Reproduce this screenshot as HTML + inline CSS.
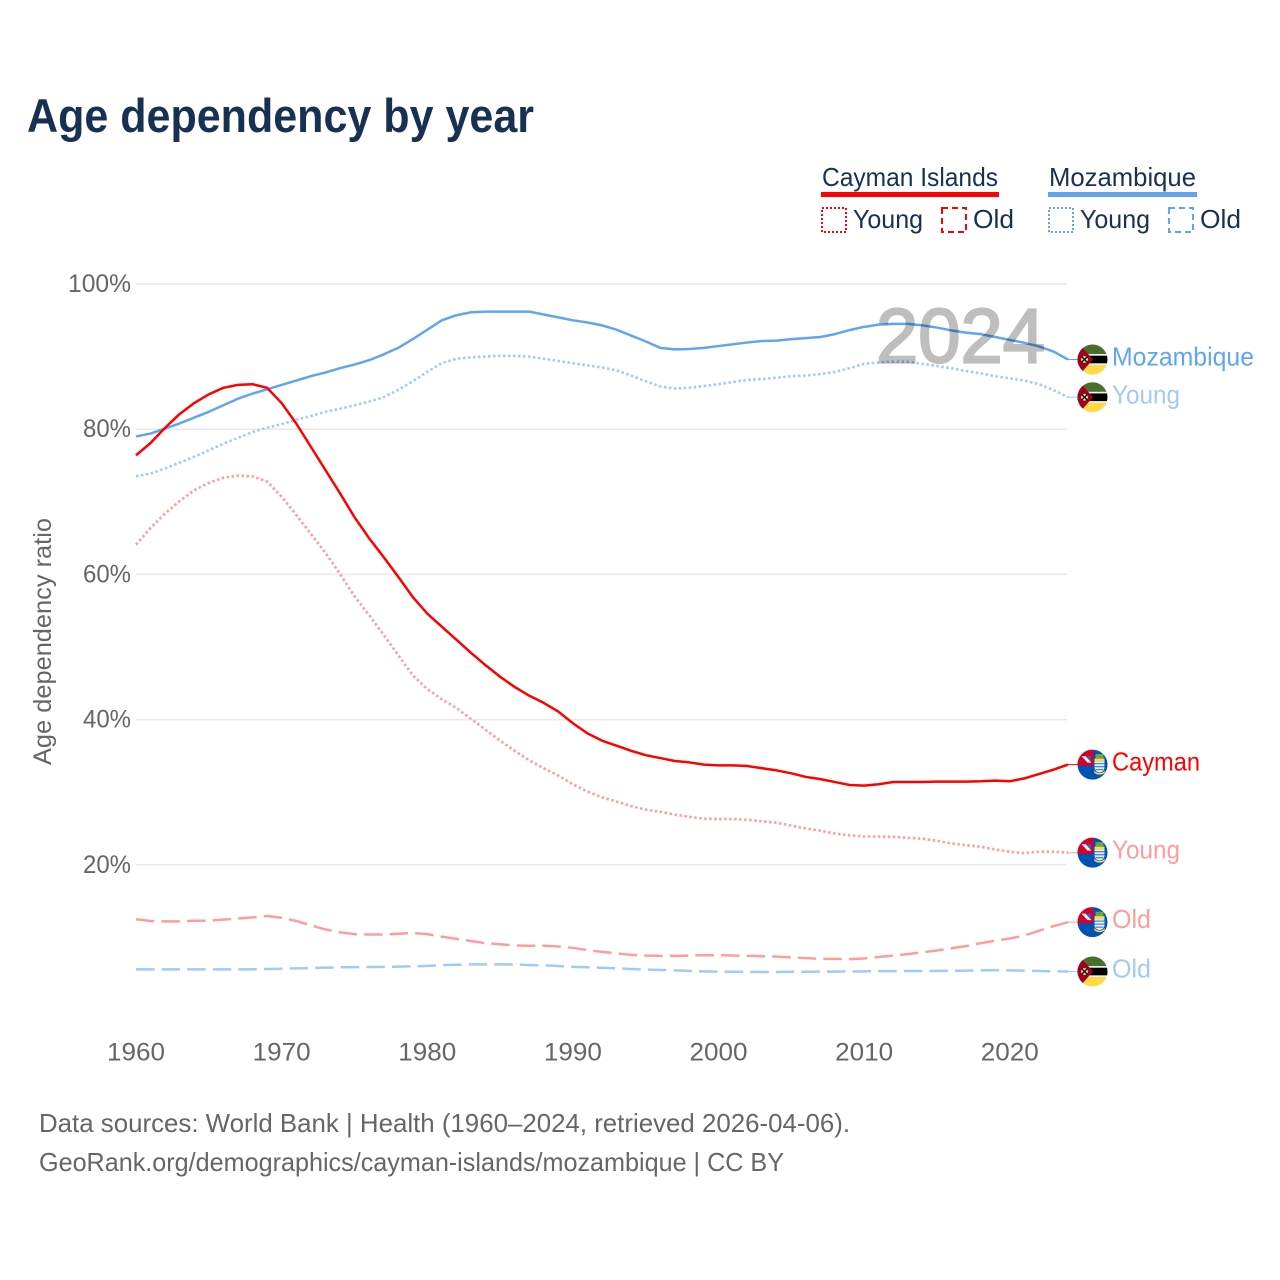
<!DOCTYPE html>
<html lang="en">
<head>
<meta charset="utf-8">
<title>Age dependency by year</title>
<style>
html,body{margin:0;padding:0;background:#fff;}
svg{display:block;font-family:"Liberation Sans",sans-serif;}
</style>
</head>
<body>
<svg id="chart" width="1280" height="1280" viewBox="0 0 1280 1280" xmlns="http://www.w3.org/2000/svg">
  <defs>
    <clipPath id="flag-clip"><circle cx="0" cy="0" r="15"></circle></clipPath>
    <symbol id="flag-mz" viewBox="-15 -15 30 30" overflow="visible">
      <g clip-path="url(#flag-clip)">
        <rect x="-15" y="-15" width="30" height="30" fill="#f0f0f0"></rect>
        <rect x="-15" y="-15" width="30" height="9.5" fill="#496e2d"></rect>
        <rect x="-15" y="-3.8" width="30" height="7.6" fill="#000"></rect>
        <rect x="-15" y="5.5" width="30" height="9.5" fill="#ffda44"></rect>
        <polygon points="-15,-15 -11,-13 0.5,0 -11,13 -15,15" fill="#a2001d"></polygon>
        <circle cx="-8" cy="0" r="3.4" fill="#f3e3a0"></circle>
        <path d="M-11-3L-5 3M-11 3L-5-3" stroke="#111" stroke-width="1.5"></path>
      </g>
    </symbol>
    <symbol id="flag-ky" viewBox="-15 -15 30 30" overflow="visible">
      <g clip-path="url(#flag-clip)">
        <rect x="-15" y="-15" width="30" height="30" fill="#0052b4"></rect>
        <rect x="-15" y="-15" width="16" height="16" fill="#d80027"></rect>
        <polygon points="-11,-8.5 -7,-8.5 -1,-2 -5,-2" fill="#f0f0f0"></polygon>
        <polygon points="-7,-8.5 -1.5,-8.5 -1.5,-2.5" fill="#3a5fb0"></polygon>
        <rect x="3" y="-10.5" width="8" height="4.5" fill="#6da544"></rect>
        <rect x="2" y="-6" width="10" height="3" fill="#ffda44"></rect>
        <path d="M2-3H12V3Q12 7 7 8Q2 7 2 3Z" fill="#f0f0f0"></path>
        <path d="M2-1H12M2 2H12M3 5H11" stroke="#338af3" stroke-width="1.3"></path>
        <path d="M1.5 6Q7 11 12.5 6L12 8.5Q7 11.5 2 8.5Z" fill="#ffda44"></path>
      </g>
    </symbol>
  </defs>

  <text x="27" y="132" font-size="47" font-weight="700" fill="#183153" textLength="507" lengthAdjust="spacingAndGlyphs">Age dependency by year</text>

  <g font-size="26" fill="#183153">
    <g>
      <text x="822" y="186" textLength="176" lengthAdjust="spacingAndGlyphs">Cayman Islands</text>
      <rect x="821" y="192" width="178" height="5" fill="#ff0000"></rect>
      <rect x="822" y="208" width="24" height="24" fill="none" stroke="#ff0000" stroke-width="2" stroke-dasharray="2 2"></rect>
      <text x="853" y="228" textLength="70" lengthAdjust="spacingAndGlyphs">Young</text>
      <rect x="942" y="208" width="24" height="24" fill="none" stroke="#ff0000" stroke-width="2" stroke-dasharray="6 4"></rect>
      <text x="973" y="228" textLength="41" lengthAdjust="spacingAndGlyphs">Old</text>
    </g>
    <g>
      <text x="1049" y="186" textLength="147" lengthAdjust="spacingAndGlyphs">Mozambique</text>
      <rect x="1048" y="192" width="149" height="5" fill="#60a5ee"></rect>
      <rect x="1049" y="208" width="24" height="24" fill="none" stroke="#60a5ee" stroke-width="2" stroke-dasharray="2 2"></rect>
      <text x="1080" y="228" textLength="70" lengthAdjust="spacingAndGlyphs">Young</text>
      <rect x="1169" y="208" width="24" height="24" fill="none" stroke="#60a5ee" stroke-width="2" stroke-dasharray="6 4"></rect>
      <text x="1200" y="228" textLength="41" lengthAdjust="spacingAndGlyphs">Old</text>
    </g>
  </g>

  <g id="grid"></g>
  <g id="y-labels" font-size="25" fill="#666666"></g>
  <g id="x-labels" font-size="25" fill="#666666"></g>
  <text transform="translate(51 641.5) rotate(-90)" text-anchor="middle" font-size="25" fill="#666666" textLength="247" lengthAdjust="spacingAndGlyphs">Age dependency ratio</text>

  <g id="series"></g>

  <text x="876" y="362.5" font-size="77" fill="#000" stroke="#000" stroke-width="2.2" opacity="0.25" textLength="169" lengthAdjust="spacingAndGlyphs">2024</text>

  <g id="end-labels" font-size="26"></g>

  <g font-size="26" fill="#666666">
    <text x="39" y="1132" textLength="811" lengthAdjust="spacingAndGlyphs">Data sources: World Bank | Health (1960–2024, retrieved 2026-04-06).</text>
    <text x="39" y="1171" textLength="745" lengthAdjust="spacingAndGlyphs">GeoRank.org/demographics/cayman-islands/mozambique | CC BY</text>
  </g>
</svg>

<script>
const years = [
  1960,1961,1962,1963,1964,1965,1966,1967,1968,1969,
  1970,1971,1972,1973,1974,1975,1976,1977,1978,1979,
  1980,1981,1982,1983,1984,1985,1986,1987,1988,1989,
  1990,1991,1992,1993,1994,1995,1996,1997,1998,1999,
  2000,2001,2002,2003,2004,2005,2006,2007,2008,2009,
  2010,2011,2012,2013,2014,2015,2016,2017,2018,2019,
  2020,2021,2022,2023,2024];
const caymanTotal = [
  76.4,78.1,80.2,82.1,83.6,84.8,85.7,86.1,86.2,85.7,
  83.6,80.8,77.6,74.4,71.2,67.9,65.0,62.4,59.7,56.9,
  54.6,52.8,51.0,49.2,47.5,45.9,44.5,43.3,42.3,41.1,
  39.5,38.1,37.1,36.4,35.7,35.1,34.7,34.3,34.1,33.8,
  33.7,33.7,33.6,33.3,33.0,32.6,32.1,31.8,31.4,31.0,
  30.9,31.1,31.4,31.4,31.4,31.45,31.45,31.45,31.5,31.6,
  31.5,31.9,32.5,33.1,33.8];
const caymanYoung = [
  64.1,66.4,68.4,70.1,71.6,72.6,73.3,73.6,73.5,72.8,
  70.7,68.2,65.6,63.0,60.1,57.0,54.4,51.7,48.9,46.1,
  44.2,42.8,41.6,40.1,38.6,37.1,35.7,34.4,33.3,32.3,
  31.1,30.1,29.3,28.7,28.1,27.6,27.3,26.9,26.6,26.35,
  26.3,26.3,26.2,26.0,25.8,25.4,25.0,24.7,24.3,24.05,
  23.9,23.9,23.85,23.7,23.6,23.3,22.95,22.7,22.5,22.1,
  21.8,21.6,21.8,21.8,21.67];
const caymanOld = [
  12.5,12.26,12.2,12.2,12.3,12.3,12.45,12.6,12.75,12.95,
  12.7,12.26,11.65,11.1,10.7,10.45,10.4,10.4,10.5,10.6,
  10.45,10.1,9.8,9.5,9.2,9.05,8.9,8.85,8.85,8.75,
  8.55,8.25,8.0,7.8,7.6,7.5,7.45,7.45,7.5,7.55,
  7.55,7.5,7.45,7.4,7.35,7.25,7.15,7.05,7.05,7.0,
  7.1,7.3,7.5,7.7,7.95,8.2,8.5,8.8,9.2,9.55,
  9.85,10.25,10.9,11.55,12.1];
const mozambiqueTotal = [
  79.0,79.4,80.1,80.8,81.6,82.4,83.3,84.2,84.9,85.5,
  86.1,86.7,87.3,87.8,88.4,88.9,89.5,90.3,91.2,92.4,
  93.7,95.0,95.7,96.1,96.2,96.2,96.2,96.2,95.8,95.4,
  95.0,94.7,94.3,93.7,92.9,92.1,91.2,91.0,91.05,91.2,
  91.45,91.7,91.95,92.15,92.2,92.4,92.55,92.7,93.1,93.65,
  94.1,94.4,94.5,94.5,94.3,94.0,93.6,93.3,93.1,92.7,
  92.3,91.9,91.4,90.7,89.6];
const mozambiqueYoung = [
  73.5,73.9,74.6,75.4,76.2,77.1,78.0,78.8,79.6,80.2,
  80.7,81.3,81.8,82.4,82.8,83.3,83.8,84.4,85.4,86.6,
  87.9,89.1,89.7,89.9,90.0,90.1,90.1,90.0,89.7,89.4,
  89.1,88.8,88.5,88.1,87.4,86.6,85.9,85.6,85.7,85.95,
  86.2,86.5,86.8,86.9,87.1,87.3,87.4,87.6,87.9,88.4,
  89.0,89.2,89.3,89.3,89.0,88.7,88.4,88.0,87.7,87.3,
  87.0,86.7,86.2,85.4,84.4];
const mozambiqueOld = [
  5.6,5.6,5.6,5.6,5.6,5.6,5.6,5.6,5.6,5.65,
  5.69,5.74,5.78,5.83,5.88,5.9,5.92,5.94,5.97,6.01,
  6.08,6.17,6.24,6.29,6.29,6.29,6.27,6.2,6.15,6.06,
  5.94,5.88,5.81,5.74,5.65,5.58,5.51,5.46,5.39,5.32,
  5.28,5.26,5.26,5.23,5.23,5.26,5.26,5.28,5.28,5.3,
  5.32,5.35,5.35,5.37,5.37,5.39,5.39,5.42,5.46,5.49,
  5.46,5.42,5.37,5.32,5.3];
const yTickValues = [20,40,60,80,100];
const yTickLabels = ["20%","40%","60%","80%","100%"];
const xTickValues = [1960,1970,1980,1990,2000,2010,2020];
const xTickLabels = ["1960","1970","1980","1990","2000","2010","2020"];

const NS = "http://www.w3.org/2000/svg";
const RED = "#ff0000", BLUE = "#60a5ee", RED_LIGHT = "#ff9d9d", BLUE_LIGHT = "#a3caf5";
const DOT = "2.5 2.5", DASH = "18.5 7.1";

function xScale(year){ return 136 + (year - 1960) * (932 / 64); }
function yScale(v){ return 1010 - v * 7.26; }
function make(tag, parent){
  const el = document.createElementNS(NS, tag);
  parent.appendChild(el);
  return el;
}

const grid = document.getElementById("grid");
const yLabels = document.getElementById("y-labels");
const xLabels = document.getElementById("x-labels");
const seriesGroup = document.getElementById("series");
const endLabels = document.getElementById("end-labels");

yTickValues.forEach(function(v, i){
  const line = make("line", grid);
  
  
  line.setAttribute("x1", 136);
  line.setAttribute("x2", 1067);
  line.setAttribute("y1", yScale(v));
  line.setAttribute("y2", yScale(v));
  line.setAttribute("stroke", "#e9e9e9");
  line.setAttribute("stroke-width", "1.5");
  const t = make("text", yLabels);
  
  
  t.setAttribute("x", 131);
  t.setAttribute("y", yScale(v) + 8);
  t.setAttribute("text-anchor", "end");
  t.setAttribute("textLength", yTickLabels[i].length === 4 ? 63 : 48);
  t.setAttribute("lengthAdjust", "spacingAndGlyphs");
  t.textContent = yTickLabels[i];
});

xTickValues.forEach(function(year, i){
  const t = make("text", xLabels);
  
  
  t.setAttribute("x", xScale(year));
  t.setAttribute("y", 1060.5);
  t.setAttribute("text-anchor", "middle");
  t.setAttribute("textLength", 58);
  t.setAttribute("lengthAdjust", "spacingAndGlyphs");
  t.textContent = xTickLabels[i];
});

function drawSeries(name, values, color, dash, width){
  const path = make("polyline", seriesGroup);
  
  
  path.setAttribute("points", values.map(function(v, i){
    return xScale(years[i]).toFixed(2) + "," + yScale(v).toFixed(2);
  }).join(" "));
  path.setAttribute("fill", "none");
  path.setAttribute("stroke", color);
  path.setAttribute("stroke-width", width);
  path.setAttribute("stroke-linejoin", "round");
  if (dash) path.setAttribute("stroke-dasharray", dash);
}

function drawEnd(name, values, color, flag, label, labelWidth){
  const cy = yScale(values[values.length - 1]);
  const conn = make("line", endLabels);
  
  
  conn.setAttribute("x1", xScale(2024));
  conn.setAttribute("x2", 1078);
  conn.setAttribute("y1", cy);
  conn.setAttribute("y2", cy);
  conn.setAttribute("stroke", color);
  conn.setAttribute("stroke-width", "1");
  const use = make("use", endLabels);
  
  
  use.setAttribute("href", "#" + flag);
  use.setAttribute("x", 1077.5);
  use.setAttribute("y", cy - 15);
  use.setAttribute("width", 30);
  use.setAttribute("height", 30);
  const t = make("text", endLabels);
  
  
  t.setAttribute("x", 1112);
  t.setAttribute("y", cy + 6);
  t.setAttribute("fill", color);
  t.setAttribute("textLength", labelWidth);
  t.setAttribute("lengthAdjust", "spacingAndGlyphs");
  t.textContent = label;
}

drawSeries("mozambique-old", mozambiqueOld, BLUE_LIGHT, DASH, 2.5);
drawSeries("cayman-old", caymanOld, RED_LIGHT, DASH, 2.5);
drawSeries("mozambique-young", mozambiqueYoung, BLUE_LIGHT, DOT, 2.6);
drawSeries("cayman-young", caymanYoung, RED_LIGHT, DOT, 2.6);
drawSeries("mozambique-total", mozambiqueTotal, BLUE, null, 2.5);
drawSeries("cayman-total", caymanTotal, RED, null, 2.5);

drawEnd("mozambique-total", mozambiqueTotal, BLUE, "flag-mz", "Mozambique", 142);
drawEnd("mozambique-young", mozambiqueYoung, BLUE_LIGHT, "flag-mz", "Young", 68);
drawEnd("cayman-total", caymanTotal, RED, "flag-ky", "Cayman", 88);
drawEnd("cayman-young", caymanYoung, RED_LIGHT, "flag-ky", "Young", 68);
drawEnd("cayman-old", caymanOld, RED_LIGHT, "flag-ky", "Old", 39);
drawEnd("mozambique-old", mozambiqueOld, BLUE_LIGHT, "flag-mz", "Old", 39);
</script>
</body>
</html>
